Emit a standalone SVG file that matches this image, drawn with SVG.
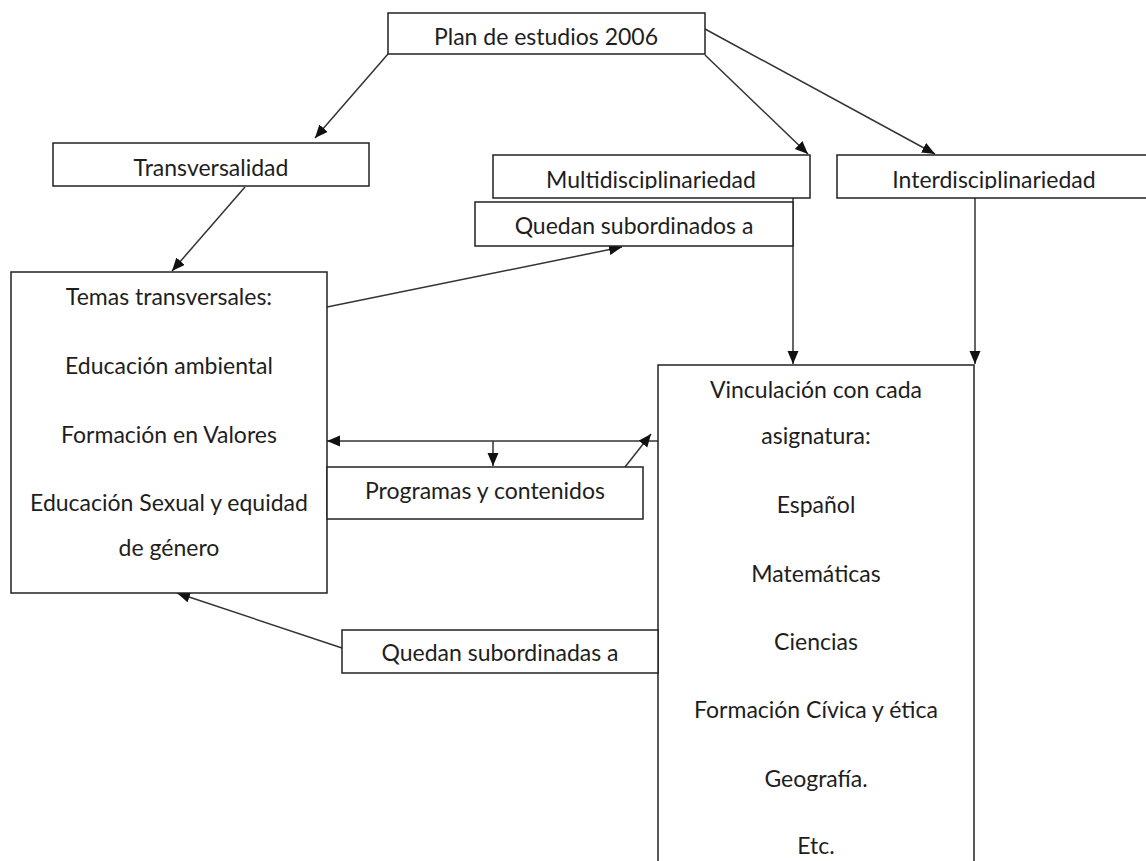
<svg xmlns="http://www.w3.org/2000/svg" width="1146" height="861" viewBox="0 0 1146 861">
<style>
.box{fill:#fff;stroke:#222;stroke-width:1.5}
.t{font-family:Lato,"Open Sans","Liberation Sans",sans-serif;font-size:23px;fill:#1e1e1e;text-anchor:middle}
.c{fill:none;stroke:#333;stroke-width:1.5;marker-end:url(#ah)}
</style>
<defs>
<marker id="ah" markerUnits="userSpaceOnUse" markerWidth="14" markerHeight="12" refX="13" refY="5.5" orient="auto">
<path d="M0,0 L13,5.5 L0,11 z" fill="#111"/>
</marker>
<clipPath id="clipTop"><rect x="0" y="150" width="1146" height="39"/></clipPath>
</defs>
<rect width="1146" height="861" fill="#fff"/>
<g id="connectors">
<path class="c" d="M388,54 L315,138"/>
<path class="c" d="M705,55 L808,154"/>
<path class="c" d="M705,29 L935,154"/>
<path class="c" d="M245,187 L172,271"/>
<path class="c" d="M327,307 L622,247"/>
<path class="c" d="M793,198 L793,364"/>
<path class="c" d="M975,198 L975,364"/>
<path class="c" d="M658,441 L327,441"/>
<path class="c" d="M493,441 L493,466"/>
<path class="c" d="M625,467 L651,434"/>
<path class="c" d="M342,648 L177,593"/>
</g>
<g id="plan">
<rect class="box" x="388" y="13" width="317" height="41"/>
<text class="t" x="546" y="45">Plan de estudios 2006</text>
</g>
<g id="transversalidad">
<rect class="box" x="53" y="143" width="316" height="43"/>
<text class="t" x="211" y="176">Transversalidad</text>
</g>
<g id="multidisciplinariedad">
<rect class="box" x="493" y="155" width="317" height="43"/>
<text class="t" x="651" y="188" clip-path="url(#clipTop)">Multidisciplinariedad</text>
</g>
<g id="interdisciplinariedad">
<rect class="box" x="837" y="155" width="316" height="43"/>
<text class="t" x="994" y="188" clip-path="url(#clipTop)">Interdisciplinariedad</text>
</g>
<g id="quedan-subordinados">
<rect class="box" x="475" y="202" width="318" height="44"/>
<text class="t" x="634" y="234">Quedan subordinados a</text>
</g>
<g id="temas">
<rect class="box" x="11" y="272" width="316" height="321"/>
<text class="t" x="169" y="305">Temas transversales:</text>
<text class="t" x="169" y="374">Educación ambiental</text>
<text class="t" x="169" y="443">Formación en Valores</text>
<text class="t" x="169" y="511">Educación Sexual y equidad</text>
<text class="t" x="169" y="556">de género</text>
</g>
<g id="programas">
<rect class="box" x="327" y="467" width="316" height="52"/>
<text class="t" x="485" y="499">Programas y contenidos</text>
</g>
<g id="vinculacion">
<rect class="box" x="658" y="365" width="316" height="510"/>
<text class="t" x="816" y="398">Vinculación con cada</text>
<text class="t" x="816" y="444">asignatura:</text>
<text class="t" x="816" y="513">Español</text>
<text class="t" x="816" y="582">Matemáticas</text>
<text class="t" x="816" y="650">Ciencias</text>
<text class="t" x="816" y="718">Formación Cívica y ética</text>
<text class="t" x="816" y="787">Geografía.</text>
<text class="t" x="816" y="854">Etc.</text>
</g>
<g id="quedan-subordinadas">
<rect class="box" x="342" y="630" width="316" height="43"/>
<text class="t" x="500" y="661">Quedan subordinadas a</text>
</g>
</svg>
